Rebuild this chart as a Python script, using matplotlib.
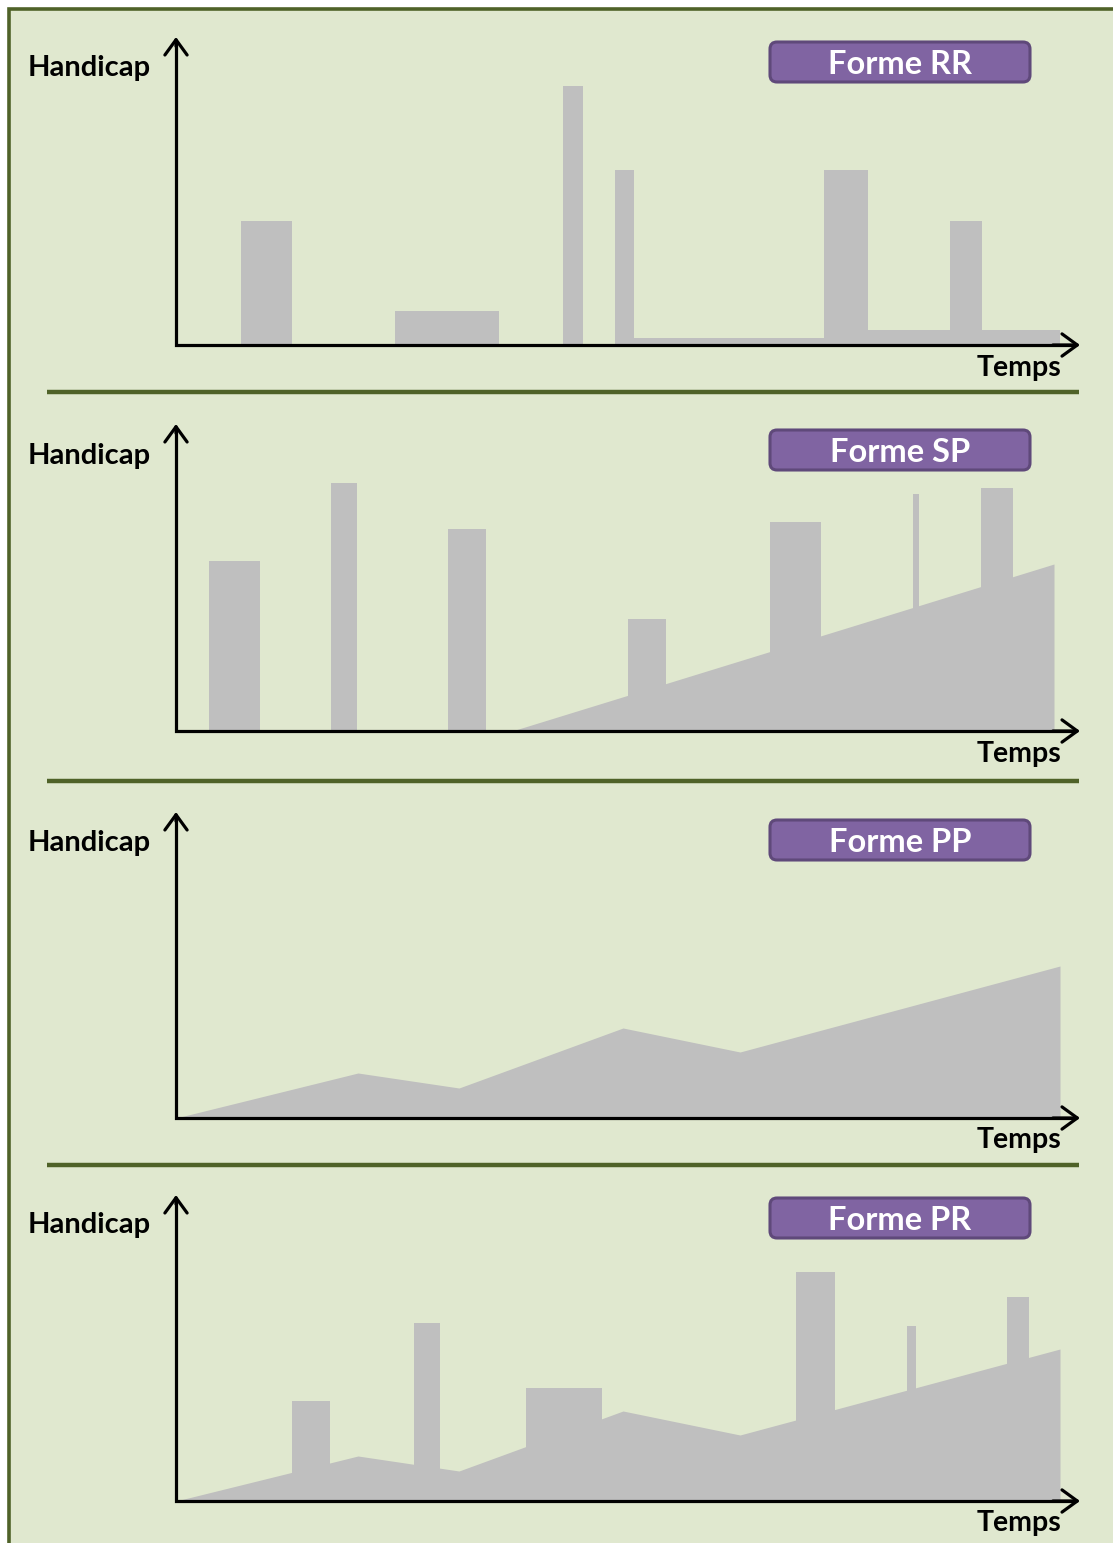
import matplotlib
matplotlib.use("Agg")
import matplotlib.pyplot as plt
from matplotlib.patches import Rectangle, FancyBboxPatch

plt.rcParams['font.family'] = ['Lato', 'DejaVu Sans']

W, H = 1113, 1543
bg = '#e0e8cf'
olive = '#4f6228'
grey = '#bfbfbf'
purple = '#8064a2'
purple_edge = '#5f497a'

# --- data (time along x, handicap along y) ---
names = ['Forme RR', 'Forme SP', 'Forme PP', 'Forme PR']

# RR: relapses only, steps after each flare
rr_start = [65, 219, 387, 439, 458, 648, 692, 774, 806]
rr_end = [116, 323, 407, 458, 648, 692, 774, 806, 884]
rr_height = [124, 34, 259, 175, 7, 175, 15, 124, 15]

# SP: relapses then slow progression
sp_base_t = [0, 336, 878]
sp_base_h = [0, 0, 167]
sp_start = [33, 155, 272, 452, 594, 737, 805]
sp_end = [84, 181, 310, 490, 645, 743, 837]
sp_height = [170, 248, 202, 112, 209, 237, 243]

# PP: progression from the start
pp_t = [0, 182, 283, 447, 564, 884]
pp_h = [0, 45, 30, 90, 66, 152]

# PR: progression plus relapses
pr_base_t = [0, 182, 283, 447, 564, 884]
pr_base_h = [0, 45, 30, 90, 66, 152]
pr_start = [116, 238, 350, 620, 731, 831]
pr_end = [154, 264, 426, 659, 740, 853]
pr_height = [100, 178, 113, 229, 175, 204]

# layout of the four panels (pixels)
baselines = [345, 731, 1118, 1501]
tips = [37, 424, 812, 1195]
box_tops = [42, 430, 820, 1198]
handicap_y = [68, 456, 843, 1225]
temps_y = [368, 754, 1140, 1523]
separators = [392, 781, 1165]
x0_px, x1_px = 176, 1080

fig = plt.figure(figsize=(W / 100, H / 100), dpi=100)
fig.patch.set_facecolor('white')

back = fig.add_axes([0, 0, 1, 1])
back.set_xlim(0, W)
back.set_ylim(H, 0)
back.axis('off')
back.add_patch(Rectangle((9.3, 9.3), W + 60, H + 60, facecolor=bg,
                         edgecolor=olive, lw=2.6))
for y in separators:
    back.plot([47, 1079], [y, y], color=olive, lw=3.2, solid_capstyle='butt')

for i, name in enumerate(names):
    back.text(28, handicap_y[i], 'Handicap', ha='left', va='center',
              fontsize=21, fontweight='bold', color='black')
    back.text(1061, temps_y[i], 'Temps', ha='right', va='center',
              fontsize=20.5, fontweight='bold', color='black')
    top = box_tops[i]
    back.add_patch(FancyBboxPatch((770, top), 260, 40,
                                  boxstyle='round,pad=0,rounding_size=7',
                                  facecolor=purple, edgecolor=purple_edge, lw=2.2))
    back.text(900, top + 23, name, ha='center', va='center', fontsize=23.5,
              fontweight='bold', color='white')

axes = []
for i in range(4):
    b, t = baselines[i], tips[i]
    ax = fig.add_axes([x0_px / W, 1 - b / H, (x1_px - x0_px) / W, (b - t) / H])
    ax.set_xlim(0, x1_px - x0_px)
    ax.set_ylim(0, b - t)
    ax.patch.set_alpha(0)
    ax.axis('off')
    axes.append(ax)


def bars(ax, start, end, height):
    width = [e - s for s, e in zip(start, end)]
    ax.bar(start, height, width=width, align='edge', color=grey,
           linewidth=0, zorder=2)


bars(axes[0], rr_start, rr_end, rr_height)

axes[1].fill_between(sp_base_t, sp_base_h, color=grey, linewidth=0, zorder=2)
bars(axes[1], sp_start, sp_end, sp_height)

axes[2].fill_between(pp_t, pp_h, color=grey, linewidth=0, zorder=2)

axes[3].fill_between(pr_base_t, pr_base_h, color=grey, linewidth=0, zorder=2)
bars(axes[3], pr_start, pr_end, pr_height)

for ax in axes:
    xmax = ax.get_xlim()[1]
    ymax = ax.get_ylim()[1]
    ax.plot([0, 0, xmax - 4], [ymax - 4, 0, 0], color='black', lw=2.3,
            solid_joinstyle='miter', solid_capstyle='butt', zorder=5, clip_on=False)
    for tip in [(0, 1), (1, 0)]:
        ax.annotate('', xy=tip, xytext=(tip[0] * 0.97, tip[1] * 0.97),
                    xycoords='axes fraction', annotation_clip=False,
                    arrowprops=dict(arrowstyle='->,head_length=1.1,head_width=0.8',
                                    mutation_scale=10, lw=2.3, color='black',
                                    shrinkA=0, shrinkB=0), zorder=6)

fig.savefig('out.png', dpi=100, facecolor=fig.get_facecolor())
